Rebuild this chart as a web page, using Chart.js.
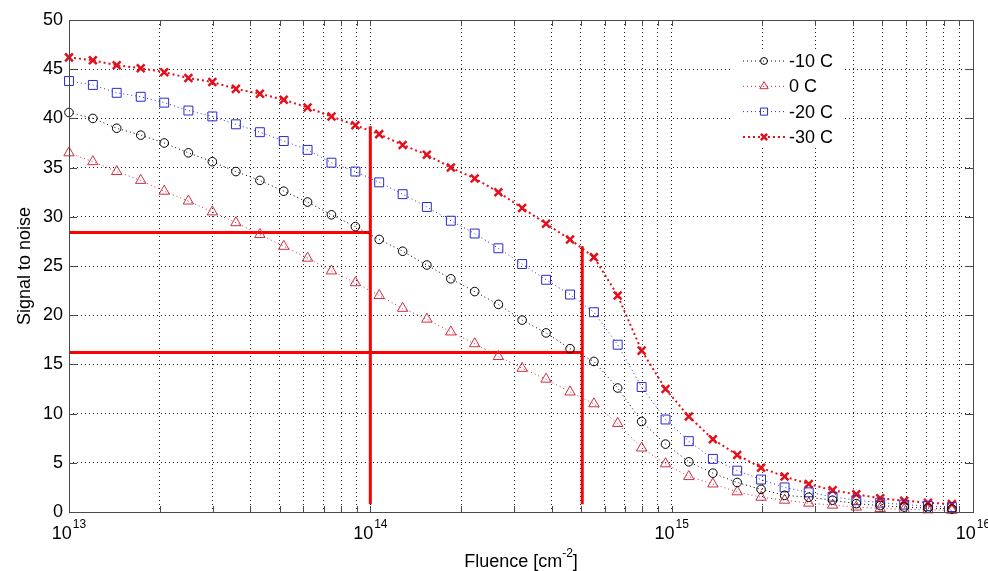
<!DOCTYPE html>
<html>
<head>
<meta charset="utf-8">
<title>Signal to noise vs fluence</title>
<script src="https://cdn.jsdelivr.net/npm/chart.js@4.4.1/dist/chart.umd.min.js"></script>
<style>
    html, body { margin: 0; padding: 0; background: #fff; }
    #wrap { width: 988px; height: 571px; }
</style>
</head>
<body>
<div id="wrap"><canvas id="snrChart" width="988" height="571"></canvas></div>
<script>
// Fluence of each measured point (cm^-2)
const fluence = [
    1.0e13, 1.2e13, 1.44e13, 1.73e13, 2.07e13, 2.49e13, 2.99e13, 3.58e13, 4.3e13, 5.16e13,
    6.19e13, 7.43e13, 8.92e13, 1.07e14, 1.28e14, 1.54e14, 1.85e14, 2.22e14, 2.66e14, 3.19e14,
    3.83e14, 4.6e14, 5.52e14, 6.62e14, 7.95e14, 9.54e14, 1.14e15, 1.37e15, 1.65e15, 1.98e15,
    2.37e15, 2.85e15, 3.42e15, 4.1e15, 4.92e15, 5.91e15, 7.09e15, 8.51e15
];

// Signal to noise per temperature
const snrMinus10 = [
    40.6, 40.0, 39.0, 38.3, 37.5, 36.5, 35.6, 34.6, 33.7, 32.6,
    31.5, 30.2, 29.0, 27.7, 26.5, 25.1, 23.7, 22.4, 21.1, 19.5,
    18.2, 16.6, 15.3, 12.6, 9.2, 6.9, 5.1, 3.95, 3.0, 2.3,
    1.7, 1.5, 1.2, 0.85, 0.65, 0.5, 0.4, 0.3
];
const snrZero = [
    36.5, 35.6, 34.6, 33.7, 32.6, 31.6, 30.5, 29.4, 28.2, 27.0,
    25.8, 24.5, 23.3, 22.0, 20.7, 19.6, 18.3, 17.1, 15.8, 14.6,
    13.5, 12.2, 11.0, 9.0, 6.5, 4.9, 3.6, 2.85, 2.05, 1.5,
    1.2, 0.9, 0.7, 0.5, 0.35, 0.27, 0.22, 0.17
];
const snrMinus20 = [
    43.8, 43.4, 42.6, 42.2, 41.6, 40.8, 40.2, 39.4, 38.6, 37.7,
    36.8, 35.5, 34.6, 33.5, 32.3, 31.0, 29.6, 28.3, 26.8, 25.2,
    23.6, 22.1, 20.3, 17.0, 12.7, 9.4, 7.2, 5.4, 4.2, 3.3,
    2.5, 2.0, 1.55, 1.2, 0.95, 0.75, 0.6, 0.5
];
const snrMinus30 = [
    46.2, 45.9, 45.4, 45.1, 44.7, 44.1, 43.7, 43.0, 42.5, 41.9,
    41.1, 40.2, 39.3, 38.4, 37.3, 36.3, 35.0, 33.9, 32.5, 30.9,
    29.3, 27.7, 25.9, 22.0, 16.4, 12.5, 9.7, 7.4, 5.8, 4.5,
    3.6, 2.85, 2.2, 1.8, 1.4, 1.15, 0.95, 0.8
];

const seriesLabels = ['-10 C', '0 C', '-20 C', '-30 C'];

// Red guide lines: a vertical at each fluence, a horizontal at each level
const guideFluence = [1.0e14, 5.05e14];
const guideTop = [39.2, 27.0];
const guideLevel = [28.4, 16.2];
const guideBottom = 0.8;

// Axis ticks
const xDecades = [1e13, 1e14, 1e15, 1e16];
const xDecadeExp = ['13', '14', '15', '16'];
const xMinorSteps = [2, 3, 4, 5, 6, 7, 8, 9];
const yMin = 0, yMax = 50, yStep = 5;

const FONT = '"Liberation Sans", Arial, Helvetica, sans-serif';

// all grid positions on the log axis (decades plus 2..9 between them)
const xGridTicks = [];
xDecades.forEach((d, i) => {
    xGridTicks.push(d);
    if (i < xDecades.length - 1) xMinorSteps.forEach(m => xGridTicks.push(d * m));
});

const toPoints = values => values.map((v, i) => ({ x: fluence[i], y: v }));

// marker look for each temperature
const styles = [
    { color: '#000000', pointStyle: 'circle', radius: 4.3, pointWidth: 1, lineWidth: 1, dash: [1, 3] },
    { color: '#cf2f45', pointStyle: 'triangle', radius: 6, pointWidth: 1, lineWidth: 1, dash: [1, 3] },
    { color: '#2a2ad0', pointStyle: 'rect', radius: 6.3, pointWidth: 1, lineWidth: 1, dash: [1, 3] },
    { color: '#e3101c', pointStyle: 'crossRot', radius: 5.5, pointWidth: 2.5, lineWidth: 2, dash: [2, 3] }
];

const seriesData = [snrMinus10, snrZero, snrMinus20, snrMinus30];

const datasets = seriesData.map((vals, i) => ({
    label: seriesLabels[i],
    data: toPoints(vals),
    showLine: true,
    borderColor: styles[i].color,
    borderWidth: styles[i].lineWidth,
    borderDash: styles[i].dash,
    pointStyle: styles[i].pointStyle,
    pointRadius: styles[i].radius,
    pointBorderWidth: styles[i].pointWidth,
    pointBorderColor: styles[i].color,
    pointBackgroundColor: 'rgba(0,0,0,0)',
    tension: 0,
    clip: false
}));

// Guide lines go after the series, so they're drawn underneath them
guideFluence.forEach((f, i) => {
    datasets.push({
        label: 'guideV' + i,
        data: [{ x: f, y: guideBottom }, { x: f, y: guideTop[i] }],
        showLine: true, borderColor: '#ff0000', borderWidth: 3, pointRadius: 0, borderCapStyle: 'butt'
    });
    datasets.push({
        label: 'guideH' + i,
        data: [{ x: xDecades[0], y: guideLevel[i] }, { x: f, y: guideLevel[i] }],
        showLine: true, borderColor: '#ff0000', borderWidth: 3, pointRadius: 0, borderCapStyle: 'butt'
    });
});

// Draws the legend inside the plot (no border, white background)
const insideLegend = {
    id: 'insideLegend',
    afterDatasetsDraw(chart) {
        const { ctx, chartArea: a } = chart;
        const left = a.right - 240, top = a.top + 30;
        ctx.save();
        ctx.fillStyle = '#ffffff';
        ctx.fillRect(left, top, 110, 98);
        seriesLabels.forEach((label, i) => {
            const s = styles[i];
            const yy = a.top + 41 + i * 25.3;
            ctx.strokeStyle = s.color;
            ctx.lineWidth = s.lineWidth;
            ctx.setLineDash(s.dash);
            ctx.beginPath();
            ctx.moveTo(left + 10, yy);
            ctx.lineTo(left + 54, yy);
            ctx.stroke();
            ctx.setLineDash([]);
            // marker over the line
            ctx.fillStyle = 'rgba(0,0,0,0)';
            ctx.lineWidth = s.pointWidth;
            Chart.helpers.drawPoint(ctx, {
                pointStyle: s.pointStyle, radius: s.radius * 0.8, rotation: 0, borderWidth: s.pointWidth
            }, left + 31, yy);
            ctx.fillStyle = '#000';
            ctx.font = '18px ' + FONT;
            ctx.textBaseline = 'middle';
            ctx.textAlign = 'left';
            ctx.fillText(label, left + 56, yy + 1);
        });
        ctx.restore();
    }
};

// Box, inward tick marks, power-of-ten labels and axis titles
const matlabAxes = {
    id: 'matlabAxes',
    afterDraw(chart) {
        const { ctx, chartArea: a, scales: { x, y } } = chart;
        ctx.save();
        ctx.strokeStyle = '#4a4a4a';
        ctx.lineWidth = 1;
        ctx.strokeRect(a.left + 0.5, a.top + 0.5, a.right - a.left, a.bottom - a.top);

        ctx.beginPath();
        xGridTicks.forEach(v => {
            const px = Math.round(x.getPixelForValue(v)) + 0.5;
            ctx.moveTo(px, a.bottom); ctx.lineTo(px, a.bottom - 6);
            ctx.moveTo(px, a.top); ctx.lineTo(px, a.top + 6);
        });
        for (let v = yMin; v <= yMax; v += yStep) {
            const py = Math.round(y.getPixelForValue(v)) + 0.5;
            ctx.moveTo(a.left, py); ctx.lineTo(a.left + 8, py);
            ctx.moveTo(a.right, py); ctx.lineTo(a.right - 8, py);
        }
        ctx.stroke();

        // 10^n labels under the x axis
        ctx.fillStyle = '#000';
        ctx.textBaseline = 'alphabetic';
        ctx.textAlign = 'left';
        xDecades.forEach((v, i) => {
            const px = x.getPixelForValue(v);
            ctx.font = '18px ' + FONT;
            const wb = ctx.measureText('10').width;
            ctx.font = '12px ' + FONT;
            const we = ctx.measureText(xDecadeExp[i]).width;
            const start = px - (wb + we + 1) / 2;
            ctx.font = '18px ' + FONT;
            ctx.fillText('10', start, a.bottom + 27);
            ctx.font = '12px ' + FONT;
            ctx.fillText(xDecadeExp[i], start + wb + 1, a.bottom + 16);
        });

        // x title with superscript
        ctx.font = '18px ' + FONT;
        const t1 = 'Fluence [cm', t3 = ']';
        const w1 = ctx.measureText(t1).width, w3 = ctx.measureText(t3).width;
        ctx.font = '12px ' + FONT;
        const t2 = '-2';
        const w2 = ctx.measureText(t2).width;
        let tx = (a.left + a.right) / 2 - (w1 + w2 + w3) / 2;
        ctx.font = '18px ' + FONT;
        ctx.fillText(t1, tx, a.bottom + 55);
        ctx.font = '12px ' + FONT;
        ctx.fillText(t2, tx + w1, a.bottom + 45);
        ctx.font = '18px ' + FONT;
        ctx.fillText(t3, tx + w1 + w2, a.bottom + 55);

        // y title
        ctx.translate(25, (a.top + a.bottom) / 2);
        ctx.rotate(-Math.PI / 2);
        ctx.textAlign = 'center';
        ctx.textBaseline = 'middle';
        ctx.fillText('Signal to noise', 0, 0);
        ctx.restore();
    }
};

const dottedGrid = { color: '#222222', lineWidth: 1, drawTicks: false };

new Chart(document.getElementById('snrChart'), {
    type: 'scatter',
    data: { datasets: datasets },
    options: {
        responsive: false,
        animation: false,
        layout: { padding: { top: 20, right: 15, left: 0, bottom: 0 } },
        plugins: { legend: { display: false }, tooltip: { enabled: false } },
        scales: {
            x: {
                type: 'logarithmic',
                min: xDecades[0],
                max: xDecades[xDecades.length - 1],
                afterBuildTicks: scale => { scale.ticks = xGridTicks.map(v => ({ value: v })); },
                ticks: { display: false, autoSkip: false },
                grid: dottedGrid,
                border: { display: false, dash: [1, 3] },
                afterFit: scale => { scale.height = 59; }
            },
            y: {
                min: yMin,
                max: yMax,
                ticks: { stepSize: yStep, color: '#000', padding: 6, font: { size: 18, family: FONT } },
                grid: dottedGrid,
                border: { display: false, dash: [1, 3] },
                afterFit: scale => { scale.width = 69; }
            }
        }
    },
    plugins: [insideLegend, matlabAxes]
});
</script>
</body>
</html>
